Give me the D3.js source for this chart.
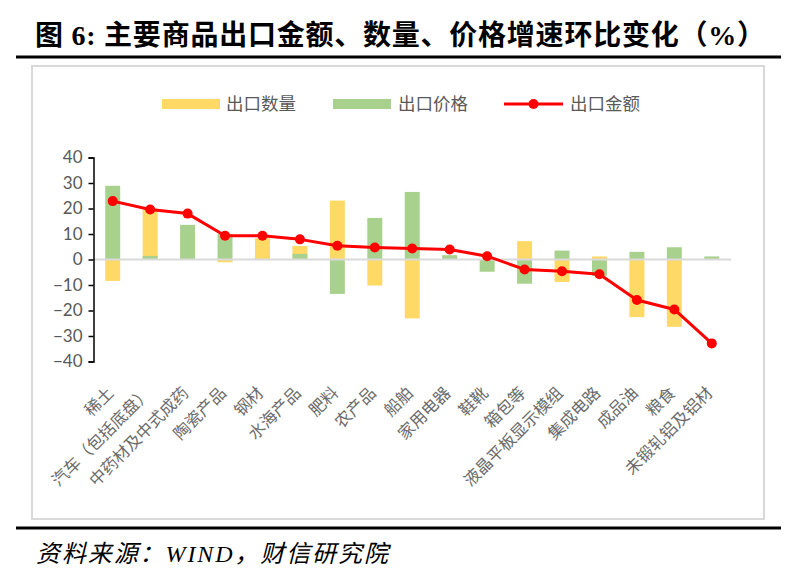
<!DOCTYPE html>
<html><head><meta charset="utf-8">
<script src="https://cdn.jsdelivr.net/npm/d3@7"></script>
<style>body{margin:0;background:#fff;}svg{display:block;}</style>
</head><body>
<svg id="c" width="803" height="587"></svg>
<script>
const categories = ["稀土","汽车（包括底盘）","中药材及中式成药","陶瓷产品","钢材","水海产品","肥料","农产品","船舶","家用电器","鞋靴","箱包等","液晶平板显示模组","集成电路","成品油","粮食","未锻轧铝及铝材"];
const quantity = [-8.4, 20.0, 0, -1.1, 8.3, 5.3, 23.1, -10.2, -23.1, 0, 0, 7.2, -8.8, 1.2, -22.6, -26.4, 0];
const price    = [28.9, 1.4, 13.6, 10.0, 0, 2.2, -13.5, 16.3, 26.5, 1.7, -4.8, -9.5, 3.5, -6.4, 3.0, 4.8, 1.2];
const amount   = [22.9, 19.6, 18.0, 9.3, 9.3, 7.9, 5.4, 4.7, 4.3, 3.9, 1.3, -3.9, -4.6, -5.8, -15.9, -19.6, -32.9];
const yTicks = [40, 30, 20, 10, 0, -10, -20, -30, -40];
const seriesNames = ["出口数量","出口价格","出口金额"];
const titleText = "图 6: 主要商品出口金额、数量、价格增速环比变化（%）";
const sourceText = "资料来源：WIND，财信研究院";

const svg = d3.select("#c");
const cjk = "'Noto Sans CJK SC','Noto Sans',sans-serif";

// title
svg.append("text").attr("x",35).attr("y",45)
  .attr("font-family","'Liberation Serif',"+cjk).attr("font-weight","bold")
  .attr("font-size",28).attr("fill","#000")
  .attr("textLength",730).attr("lengthAdjust","spacing").text(titleText);
svg.append("line").attr("x1",16).attr("x2",781).attr("y1",57).attr("y2",57)
  .attr("stroke","#000").attr("stroke-width",3);
// chart frame
svg.append("rect").attr("x",32).attr("y",66).attr("width",732).attr("height",453)
  .attr("fill","none").attr("stroke","#d9d9d9").attr("stroke-width",2);
// footer
svg.append("line").attr("x1",16).attr("x2",781).attr("y1",528).attr("y2",528)
  .attr("stroke","#000").attr("stroke-width",3);
svg.append("text").attr("x",36).attr("y",562)
  .attr("font-family","'Liberation Serif',"+cjk).attr("font-style","italic")
  .attr("font-size",24).attr("letter-spacing",1.9).attr("fill","#000").text(sourceText);

const colors = {q:"#ffd966", p:"#a9d18e", a:"#ff0000"};

const x = d3.scaleBand().domain(categories).range([94, 730.5]).paddingInner(0.6).paddingOuter(0.3);
const y = d3.scaleLinear().domain([-40, 40]).range([361.5, 157.5]);
const cx = c => x(c) + x.bandwidth()/2;

const g = svg.append("g");
// bars: quantity then price overlapped
g.selectAll("rect.q").data(categories).join("rect").attr("class","q")
  .attr("x", c => x(c)).attr("width", x.bandwidth())
  .attr("y", (c,i) => y(Math.max(0, quantity[i])))
  .attr("height", (c,i) => Math.abs(y(quantity[i]) - y(0)))
  .attr("fill", colors.q);
g.selectAll("rect.p").data(categories).join("rect").attr("class","p")
  .attr("x", c => x(c)).attr("width", x.bandwidth())
  .attr("y", (c,i) => y(Math.max(0, price[i])))
  .attr("height", (c,i) => Math.abs(y(price[i]) - y(0)))
  .attr("fill", colors.p);

// zero axis line
g.append("line").attr("x1",93).attr("x2",731).attr("y1",y(0)).attr("y2",y(0))
  .attr("stroke","#d9d9d9").attr("stroke-width",2);

// y axis
const yAxis = d3.axisLeft(y).tickValues(yTicks).tickSize(5).tickPadding(6).tickFormat(d3.format("d"));
const ya = g.append("g").attr("transform","translate(93.5,0)").call(yAxis);
ya.select(".domain").attr("stroke","#000").attr("stroke-width",1.5);
ya.selectAll(".tick line").attr("stroke","#000").attr("stroke-width",1.5);
ya.selectAll(".tick text").attr("font-family","Lato, 'Open Sans', sans-serif").attr("font-size",17).attr("fill","#595959");

// x labels
g.selectAll("text.xl").data(categories).join("text").attr("class","xl")
  .attr("transform", c => `translate(${cx(c)+2},394) rotate(-45)`)
  .attr("text-anchor","end").attr("font-family",cjk).attr("font-size",16.5)
  .attr("fill","#6b6b6b").text(c => c);

// line
const line = d3.line().x((d,i) => cx(categories[i])).y(d => y(d));
g.append("path").datum(amount).attr("d", line).attr("fill","none")
  .attr("stroke",colors.a).attr("stroke-width",3).attr("stroke-linejoin","round");
g.selectAll("circle.a").data(amount).join("circle").attr("class","a")
  .attr("cx",(d,i)=>cx(categories[i])).attr("cy",d=>y(d)).attr("r",5).attr("fill",colors.a);

// legend
const lg = svg.append("g");
lg.append("rect").attr("x",162).attr("y",99).attr("width",58).attr("height",10).attr("fill",colors.q);
lg.append("text").attr("x",226).attr("y",110).text(seriesNames[0]);
lg.append("rect").attr("x",333).attr("y",99).attr("width",58).attr("height",10).attr("fill",colors.p);
lg.append("text").attr("x",398).attr("y",110).text(seriesNames[1]);
lg.append("line").attr("x1",504).attr("x2",563).attr("y1",104).attr("y2",104).attr("stroke",colors.a).attr("stroke-width",3);
lg.append("circle").attr("cx",533.5).attr("cy",104).attr("r",5).attr("fill",colors.a);
lg.append("text").attr("x",570).attr("y",110).text(seriesNames[2]);
lg.selectAll("text").attr("font-family",cjk).attr("font-size",17.5).attr("fill","#595959");
</script>
</body></html>
